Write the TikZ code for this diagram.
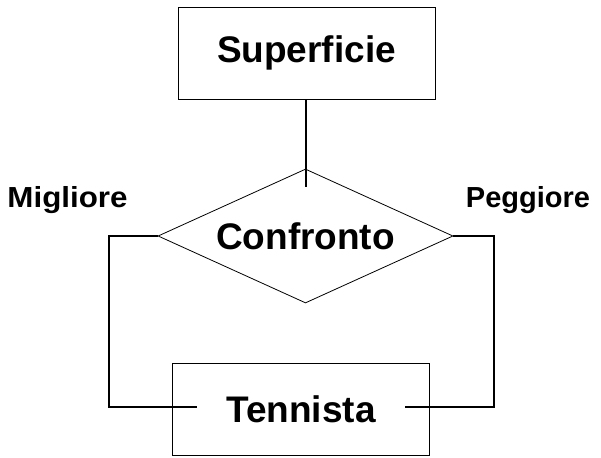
\documentclass[tikz,border=0pt]{standalone}
\usepackage{fontspec}
\setmainfont{Liberation Sans}
\usetikzlibrary{shapes.geometric}
\begin{document}
\begin{tikzpicture}[x=1pt,y=-1pt,
  bigtext/.style={font=\fontsize{37}{40}\selectfont\bfseries},
  entity/.style={draw,line width=0.8pt,minimum width=257pt,minimum height=92pt,inner sep=0pt,bigtext},
  relation/.style={draw,diamond,line width=0.8pt,minimum width=295pt,minimum height=134pt,
    inner sep=0pt,aspect=2.2},
  link/.style={line width=2.4pt},
  role/.style={font=\fontsize{29}{32}\selectfont\bfseries,inner sep=0pt,anchor=base}]
  \useasboundingbox (0,0) rectangle (601,457);
  % entities and relationship
  \node[entity] (sup) at (306.5,53) {Superficie};
  \node[relation] (conf) at (305.5,236) {};
  \node[bigtext,inner sep=0pt,anchor=base] (conftext) at (305.5,249) {Confronto};
  \node[entity] (ten) at (301,409) {Tennista};
  % connectors
  \coordinate (cin) at (306,187);
  \draw[link] (sup.south -| cin) -- (cin);
  \coordinate (lc) at (109,236);
  \coordinate (rc) at (494,236);
  \coordinate (lt) at (197,407);
  \coordinate (rt) at (405,407);
  \draw[link] (conf.west) -- (lc) -- (lc |- lt) -- (lt);
  \draw[link] (conf.east) -- (rc) -- (rc |- rt) -- (rt);
  % role labels
  \node[role,xscale=1.08,transform shape] (mig) at (67.5,207) {Migliore};
  \node[role] (peg) at (528,207) {Peggiore};
\end{tikzpicture}
\end{document}
